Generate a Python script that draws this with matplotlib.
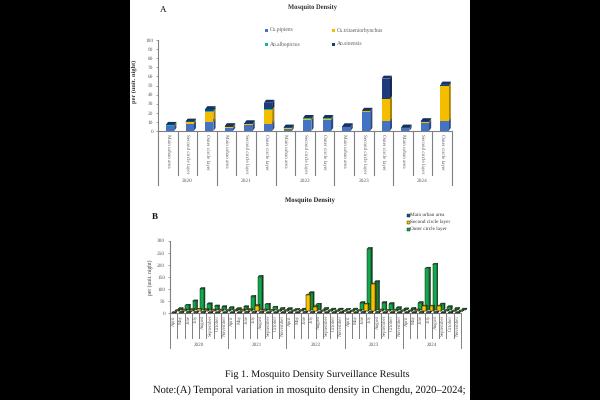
import matplotlib
matplotlib.use("Agg")
import matplotlib.pyplot as plt
from matplotlib.patches import Polygon, Rectangle

W, H = 600, 400

years = ["2020", "2021", "2022", "2023", "2024"]
areas = ["Main urban area", "Second circle layer", "Outer circle layer"]
months = ["April", "May", "June", "July", "August", "September", "October", "November"]

species = ["Cx.pipiens", "Cx.tritaeniorhynchus", "An.albopictus", "An.sinensis"]
pipiens = [5, 8, 10, 3, 7, 8, 2, 12, 12, 4, 21, 11, 3, 9, 11]
tritaenio = [1, 1.5, 11, 1.5, 0.7, 15, 1, 1, 1, 0.4, 0.5, 24, 0.2, 1, 38]
albopictus = [0.4, 0.4, 1, 0.4, 0.4, 1, 0.4, 1, 1, 0.4, 0.4, 0.5, 0.2, 0.4, 0.8]
sinensis = [0.3, 0.4, 2, 0.3, 0.3, 7, 0.3, 0.3, 0.3, 0.3, 0.3, 22, 0.3, 0.3, 1.2]

main_urban = [1, 2, 2, 2, 2, 1, 1, 1,
              1, 1, 2, 2, 2, 1, 1, 1,
              1, 1, 2, 2, 1, 1, 1, 1,
              1, 1, 2, 2, 2, 1, 1, 1,
              1, 1, 2, 2, 2, 1, 1, 1]
second_circle = [3, 5, 7, 8, 7, 5, 5, 3,
                 3, 5, 7, 24, 5, 4, 2, 2,
                 2, 3, 67, 19, 2, 2, 1, 1,
                 1, 3, 29, 113, 5, 4, 4, 2,
                 1, 5, 21, 21, 21, 3, 1, 1]
outer_circle = [4, 18, 36, 87, 24, 15, 12, 8,
                4, 12, 55, 138, 22, 10, 5, 4,
                1, 2, 70, 22, 5, 2, 2, 1,
                2, 29, 254, 116, 29, 25, 8, 3,
                5, 29, 172, 188, 23, 12, 5, 2]

SERIF = "Liberation Serif"
GREY = "#595959"
plt.rcParams["text.hinting"] = "none"
plt.rcParams["text.hinting_factor"] = 8


def px_axes(fig, left, top, right, bottom):
    return fig.add_axes([left / W, 1 - bottom / H, (right - left) / W, (bottom - top) / H])


def bar3d(ax, x, bottom, top, width, dx, dy, color, side, roof, edge=None, lw=0, z=3):
    # dx is in x data units, dy in y data units
    x0, x1 = x - width / 2, x + width / 2
    ax.add_patch(Polygon([(x1, bottom), (x1 + dx, bottom + dy), (x1 + dx, top + dy), (x1, top)],
                         fc=side, ec=edge or side, lw=lw, zorder=z, clip_on=False))
    ax.add_patch(Polygon([(x0, top), (x1, top), (x1 + dx, top + dy), (x0 + dx, top + dy)],
                         fc=roof, ec=edge or roof, lw=lw, zorder=z, clip_on=False))
    ax.add_patch(Rectangle((x0, bottom), width, top - bottom, fc=color, ec=edge or color, lw=lw,
                           zorder=z, clip_on=False))


def spine_style(ax):
    for s in ["top", "right"]:
        ax.spines[s].set_visible(False)
    for s in ["left", "bottom"]:
        ax.spines[s].set_color("#808080")
        ax.spines[s].set_linewidth(0.8)
    ax.set_xticks([])
    ax.tick_params(axis="y", labelsize=3.9, length=1.5, width=0.5, pad=2, colors=GREY,
                   color="#808080")
    for t in ax.get_yticklabels():
        t.set_family(SERIF)


fig = plt.figure(figsize=(W / 100, H / 100), dpi=100, facecolor="black")
fig.add_artist(Rectangle((130 / W, 0), 340 / W, 1, transform=fig.transFigure, fc="white", ec="none",
                         zorder=-5))

# panel A
axa = px_axes(fig, 158, 40, 452, 131)
axa.set_facecolor("none")
axa.set_xlim(0, 15)
axa.set_ylim(0, 100)
axa.set_yticks(range(0, 101, 10))
spine_style(axa)
axa.set_ylabel("per (unit. night)", fontsize=4.6, family=SERIF, fontweight="bold", labelpad=6, y=0.54,
               color="#333333")

colors_a = ["#4472c4", "#f5bd00", "#14b5a5", "#1f3a7a"]
sides_a = ["#2c4a85", "#a88000", "#0e7a70", "#14264f"]
roofs_a = ["#2f5297", "#c29a00", "#109085", "#1a3065"]
dx_a = 2.2 / 19.6
dy_a = 3.0 * 100 / 91
for i in range(15):
    base = 0
    for vals, c, s, r in zip([pipiens, tritaenio, albopictus, sinensis], colors_a, sides_a, roofs_a):
        bar3d(axa, i + 0.615, base, base + vals[i], 0.42, dx_a, dy_a, c, s, r, z=3)
        base += vals[i]

# category labels and dividers for A
for i in range(16):
    axa.plot([i, i], [0, -59 if i % 3 == 0 else -48], color="#808080", lw=0.8, clip_on=False)
for i in range(15):
    axa.text(i + 0.5, -3, areas[i % 3], rotation=270, ha="center", va="top", fontsize=3.7,
             family=SERIF, color=GREY, clip_on=False)
for k, y in enumerate(years):
    axa.text(3 * k + 1.5, -55, y, ha="center", va="center", fontsize=3.9, family=SERIF, color=GREY)

# legend A, placed by hand like the original
leg_pos = [(265, 30), (332, 30), (265, 44), (332, 44)]
for (lx, ly), name, c in zip(leg_pos, species, colors_a):
    fig.add_artist(Rectangle((lx / W, 1 - (ly + 1.5) / H), 3 / W, 3 / H, transform=fig.transFigure,
                             fc=c, ec="none"))
    fig.text((lx + 4.5) / W, 1 - ly / H, name, fontsize=4, family=SERIF, color=GREY, va="center")

fig.text(312 / W, 1 - 8 / H, "Mosquito Density", fontsize=4.7, family=SERIF, fontweight="bold",
         color="#333333", ha="center", va="center")
fig.text(160 / W, 1 - 10 / H, "A", fontsize=6.5, family=SERIF, va="center", color="#111111")

# panel B
axb = px_axes(fig, 170, 240.7, 461, 313)
axb.set_facecolor("none")
axb.set_xlim(0, 40)
axb.set_ylim(0, 300)
axb.set_yticks(range(0, 301, 50))
spine_style(axb)
axb.set_ylabel("per (unit. night)", fontsize=4.1, family=SERIF, labelpad=3, color="#333333")

colors_b = ["#1f4e9c", "#ffc000", "#12a84e"]
sides_b = ["#0f2a58", "#8a6800", "#0a5c2b"]
roofs_b = ["#143470", "#a88000", "#0b6f34"]
series_b = [outer_circle, second_circle, main_urban]
px_x = 40 / 291
px_y = 300 / 72.3
for depth, vals, c, s, r in zip([2, 1, 0], series_b, colors_b[::-1], sides_b[::-1], roofs_b[::-1]):
    for i, v in enumerate(vals):
        x = i + 0.5 + depth * 3.2 * px_x
        base = depth * 1.6 * px_y
        bar3d(axb, x, base, base + v, 3.8 * px_x, 1.2 * px_x, 1.2 * px_y, c, s, r,
              edge="#10240f", lw=0.35, z=3 + 2 - depth)

for i in range(41):
    axb.plot([i, i], [0, -35 * px_y if i % 8 == 0 else -25 * px_y], color="#808080", lw=0.7, clip_on=False)
for i in range(40):
    axb.text(i + 0.5, -2 * px_y, months[i % 8], rotation=90, ha="center", va="top", fontsize=3.6,
             family=SERIF, color=GREY, clip_on=False)
for k, y in enumerate(years):
    axb.text(8 * k + 4, -32 * px_y, y, ha="center", va="center", fontsize=3.7, family=SERIF, color=GREY)

legb_names = ["Main urban area", "Second circle layer", "Outer circle layer"]
for ly, name, c in zip([215, 222, 229], legb_names, colors_b):
    fig.add_artist(Rectangle((406.5 / W, 1 - (ly + 1.5) / H), 3 / W, 3 / H, transform=fig.transFigure,
                             fc=c, ec="#10240f", lw=0.3))
    fig.text(410.5 / W, 1 - ly / H, name, fontsize=3.8, family=SERIF, color="#333333", va="center")

fig.text(310 / W, 1 - 200.5 / H, "Mosquito Density", fontsize=4.8, family=SERIF, fontweight="bold",
         color="#222222", ha="center", va="center")
fig.text(152 / W, 1 - 216.5 / H, "B", fontsize=6.5, family=SERIF, fontweight="bold", ha="left",
         va="center", color="#111111")

# caption under the panels
fig.text(317.5 / W, 1 - 375 / H, "Fig 1. Mosquito Density Surveillance Results", fontsize=7.3,
         family=SERIF, ha="center", va="center", color="#111111")
fig.text(153 / W, 1 - 391.5 / H, "Note:(A) Temporal variation in mosquito density in Chengdu, 2020–2024;",
         fontsize=7.6, family=SERIF, ha="left", va="center", color="#111111")

fig.savefig("out.png", dpi=100, facecolor="black")
